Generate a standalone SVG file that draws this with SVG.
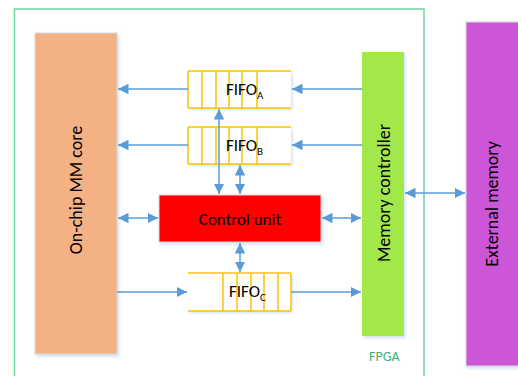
<svg xmlns="http://www.w3.org/2000/svg" width="518" height="376" viewBox="0 0 518 376">
<defs>
<style>
.lbl{font-family:Carlito,"Open Sans","Liberation Sans",sans-serif;fill:#000;}
.conn line{stroke:#5b9bd5;stroke-width:1.5;fill:none;}
.fifo line{stroke:#ffc000;stroke-width:1.5;}
.blk{stroke:#d9d9d9;stroke-width:1;}
</style>
<marker id="ah" viewBox="0 0 10 10" refX="10" refY="5" markerWidth="7" markerHeight="7" orient="auto-start-reverse" markerUnits="strokeWidth">
<path d="M0,0 L10,5 L0,10 z" fill="#5b9bd5"/>
</marker>
<filter id="sh" x="-10%" y="-10%" width="130%" height="130%">
<feDropShadow dx="1.5" dy="2" stdDeviation="1.5" flood-color="#9dc3e6" flood-opacity="0.5"/>
</filter>
</defs>
<rect width="518" height="376" fill="#fff"/>
<g id="fpga">
<rect x="14.5" y="9" width="409.5" height="380" fill="none" stroke="#6dd39f" stroke-width="1.5"/>
<text x="369" y="361" font-family="Carlito,'Open Sans','Liberation Sans',sans-serif" font-size="14" fill="#3cb371">FPGA</text>
</g>
<g id="mmcore">
<rect class="blk" x="35" y="33" width="82" height="321" fill="#f4b183" filter="url(#sh)"/>
<text class="lbl" font-size="18" text-anchor="middle" transform="translate(82,190) rotate(-90)">On-chip MM core</text>
</g>
<g id="memctrl">
<rect x="362" y="52" width="42" height="284" fill="#a3e84c" filter="url(#sh)"/>
<text class="lbl" font-size="18" text-anchor="middle" transform="translate(389.5,193) rotate(-90)">Memory controller</text>
</g>
<g id="extmem">
<rect class="blk" x="466" y="22" width="60" height="344" fill="#cd57d8" filter="url(#sh)"/>
<text class="lbl" font-size="18" text-anchor="middle" transform="translate(498,204) rotate(-90)">External memory</text>
</g>
<g id="control">
<rect class="blk" x="159" y="195" width="162" height="47" fill="#ff0000" filter="url(#sh)"/>
<text class="lbl" font-size="17" text-anchor="middle" x="240" y="225">Control unit</text>
</g>
<g id="fifoA" class="fifo">
<rect x="188" y="71" width="103" height="37" fill="#fff" filter="url(#sh)"/>
<line x1="188" y1="71" x2="291" y2="71"/><line x1="188" y1="108" x2="291" y2="108"/>
<line x1="188" y1="71" x2="188" y2="108"/><line x1="202" y1="71" x2="202" y2="108"/>
<line x1="216" y1="71" x2="216" y2="108"/><line x1="229" y1="71" x2="229" y2="108"/>
<line x1="242" y1="71" x2="242" y2="108"/><line x1="257" y1="71" x2="257" y2="108"/>
<text class="lbl" font-size="17" x="226" y="95">FIFO<tspan font-size="11" dy="4">A</tspan></text>
</g>
<g id="fifoB" class="fifo">
<rect x="188" y="127" width="103" height="37" fill="#fff" filter="url(#sh)"/>
<line x1="188" y1="127" x2="291" y2="127"/><line x1="188" y1="164" x2="291" y2="164"/>
<line x1="188" y1="127" x2="188" y2="164"/><line x1="202" y1="127" x2="202" y2="164"/>
<line x1="216" y1="127" x2="216" y2="164"/><line x1="229" y1="127" x2="229" y2="164"/>
<line x1="242" y1="127" x2="242" y2="164"/><line x1="257" y1="127" x2="257" y2="164"/>
<text class="lbl" font-size="17" x="226" y="151">FIFO<tspan font-size="11" dy="4">B</tspan></text>
</g>
<g id="fifoC" class="fifo">
<rect x="188" y="273" width="103" height="38" fill="#fff" filter="url(#sh)"/>
<line x1="188" y1="273" x2="291" y2="273"/><line x1="188" y1="311" x2="291" y2="311"/>
<line x1="223" y1="273" x2="223" y2="311"/><line x1="237" y1="273" x2="237" y2="311"/>
<line x1="251" y1="273" x2="251" y2="311"/><line x1="264" y1="273" x2="264" y2="311"/>
<line x1="278" y1="273" x2="278" y2="311"/><line x1="291" y1="273" x2="291" y2="311"/>
<text class="lbl" font-size="17" x="229" y="297">FIFO<tspan font-size="11" dy="4">C</tspan></text>
</g>
<g id="connectors" class="conn">
<line x1="188" y1="89" x2="118" y2="89" marker-end="url(#ah)"/>
<line x1="362" y1="89" x2="292" y2="89" marker-end="url(#ah)"/>
<line x1="188" y1="145" x2="118" y2="145" marker-end="url(#ah)"/>
<line x1="362" y1="145" x2="292" y2="145" marker-end="url(#ah)"/>
<line x1="118" y1="218" x2="158" y2="218" marker-start="url(#ah)" marker-end="url(#ah)"/>
<line x1="322" y1="218" x2="361" y2="218" marker-start="url(#ah)" marker-end="url(#ah)"/>
<line x1="219" y1="109" x2="219" y2="194" marker-start="url(#ah)" marker-end="url(#ah)"/>
<line x1="240" y1="165" x2="240" y2="194" marker-start="url(#ah)" marker-end="url(#ah)"/>
<line x1="240" y1="243" x2="240" y2="272" marker-start="url(#ah)" marker-end="url(#ah)"/>
<line x1="117" y1="292" x2="187" y2="292" marker-end="url(#ah)"/>
<line x1="291" y1="292" x2="361" y2="292" marker-end="url(#ah)"/>
<line x1="405" y1="193" x2="465" y2="193" marker-start="url(#ah)" marker-end="url(#ah)"/>
</g>
</svg>
